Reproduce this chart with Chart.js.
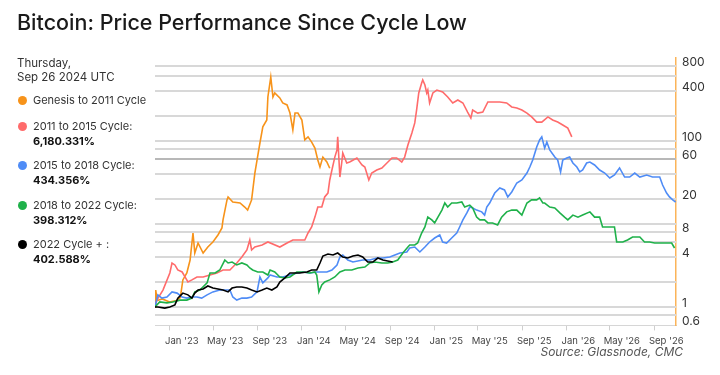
<!DOCTYPE html>
<html>
<head>
<meta charset="utf-8">
<script src="https://cdn.jsdelivr.net/npm/chart.js@4.4.1/dist/chart.umd.min.js"></script>
<style>
  html, body { margin: 0; padding: 0; background: #fff; }
  #wrap { position: relative; width: 720px; height: 375px; overflow: hidden; font-family: Inter, "Liberation Sans", sans-serif; color: #222; }
  #c { position: absolute; left: 0; top: 0; }
  .txt { position: absolute; white-space: nowrap; }
  #title { left: 17px; top: 9px; font-size: 21.5px; line-height: 26px; font-weight: 500; color: #1a1a1a; }
  #date { left: 17px; top: 56px; font-size: 11.5px; line-height: 14px; color: #333; }
  .item { left: 17px; font-size: 11px; line-height: 15px; color: #333; }
  .item .dot { display: inline-block; width: 9px; height: 9px; border-radius: 50%; vertical-align: -1px; margin: 0 6px 0 1px; }
  .item b { display: block; padding-left: 16px; color: #111; }
  #source { right: 37px; top: 344px; font-size: 12px; line-height: 15px; font-style: italic; color: #555; }
</style>
</head>
<body>
<div id="wrap">
  <canvas id="c" width="720" height="375"></canvas>
  <div class="txt" id="title">Bitcoin: Price Performance Since Cycle Low</div>
  <div class="txt" id="date">Thursday,<br>Sep 26 2024 UTC</div>
  <div id="legend"></div>
  <div class="txt" id="source">Source: Glassnode, CMC</div>
</div>
<script>
// days since cycle low (cycle low = Nov 21 2022) and price multiple of cycle low
const genesis = [[0,1],[2,1.6],[6,1.2],[20,1.25],[40,1.15],[60,1.2],[70,1.3],[77,2.12],[88,2.57],[97,3.68],[105,7.79],[110,4.47],[119,5.9],[133,4.47],[146,5.28],[160,6.07],[174,7.37],[185,8.95],[188,11.2],[199,19.5],[202,21.2],[215,18.4],[235,17.9],[248,16],[256,14.7],[267,19.5],[276,41.1],[282,59],[290,94.6],[298,148],[309,179],[312,339],[320,590],[326,339],[331,379],[345,330],[353,287],[365,272],[373,217],[381,136],[387,217],[395,217],[406,179],[414,103],[423,112],[433,97],[442,82],[450,59],[456,48.6],[464,64],[475,56],[483,47]];

const cycle2011 = [[0,1],[5,1.21],[22,1.6],[41,2.57],[47,3.39],[55,3.21],[63,2.79],[75,2.64],[83,2.3],[91,2.0],[102,2.12],[116,2.3],[133,2.3],[152,2.43],[171,2.57],[188,2.79],[207,2.79],[226,3.39],[240,4.0],[254,4.86],[262,6.42],[267,4.86],[276,5.28],[296,5.58],[312,6.07],[345,5.28],[365,5.9],[381,6.42],[414,6.42],[423,7.79],[433,9.2],[442,12.1],[450,16],[461,16],[469,21.2],[478,23.6],[483,33.9],[489,44.7],[497,64],[503,78],[505,112],[511,36.8],[516,54.3],[519,71.6],[530,54.3],[538,55.8],[558,62.4],[572,51.4],[580,48.6],[591,33.9],[599,41.1],[613,44.7],[627,47.3],[641,54.3],[655,62.4],[668,62.4],[682,55.8],[690,64],[699,89.5],[710,125],[718,165],[723,236],[729,379],[737,500],[740,543],[746,473],[751,379],[754,411],[759,287],[768,379],[779,411],[795,389],[809,339],[823,287],[837,312],[851,287],[864,223],[873,189],[878,236],[892,217],[906,223],[920,295],[933,295],[953,295],[972,287],[986,257],[1000,250],[1014,236],[1028,217],[1041,195],[1055,169],[1069,169],[1086,195],[1099,179],[1113,169],[1127,156],[1141,143],[1152,112]];

const cycle2015 = [[0,1],[8,1.4],[19,1.28],[33,1.32],[47,1.52],[61,1.47],[75,1.32],[88,1.28],[102,1.32],[116,1.32],[129,1.28],[144,1.4],[160,1.52],[179,1.6],[207,1.6],[215,1.32],[226,1.21],[240,1.28],[254,1.28],[267,1.32],[282,1.52],[290,2.3],[298,1.95],[312,2.24],[318,2.43],[337,2.3],[353,2.3],[373,2.43],[392,2.57],[409,2.64],[428,2.57],[447,2.64],[475,2.64],[489,2.79],[503,3.21],[511,4.0],[519,4.23],[533,3.68],[547,3.48],[574,3.68],[594,3.68],[613,3.89],[630,3.89],[649,4.0],[663,4.23],[677,4.47],[696,4.6],[704,5.14],[718,5.28],[732,4.6],[746,5.28],[759,6.07],[773,6.78],[787,7.37],[795,6.07],[806,5.9],[820,6.78],[834,7.79],[842,9.2],[851,11.2],[862,13.6],[870,16],[878,15.6],[889,14.7],[903,14],[911,12.8],[917,16],[925,17.9],[939,23.6],[953,27.2],[966,25.7],[975,21.2],[986,24.3],[1000,31.2],[1014,33.9],[1028,41.1],[1036,48.6],[1044,59],[1055,84.7],[1063,103],[1069,112],[1077,82],[1083,97],[1091,78],[1105,64],[1113,59],[1121,42.4],[1127,59],[1138,62.4],[1146,64],[1155,54.3],[1166,48.6],[1174,42.4],[1182,44.7],[1193,54.3],[1202,55.8],[1215,51.4],[1229,44.7],[1243,41.1],[1257,35.8],[1270,38.9],[1284,47.3],[1298,36.8],[1312,36.8],[1326,41.1],[1340,36.8],[1359,38.9],[1375,36.8],[1395,36.8],[1403,29.5],[1414,23.6],[1422,21.2],[1431,19.5],[1439,18.4]];

const cycle2018 = [[0,1],[13,1.15],[33,1.12],[49,1.15],[69,1.21],[88,1.21],[102,1.28],[110,1.52],[124,1.6],[144,1.95],[152,2.57],[166,2.57],[179,2.79],[193,3.68],[202,3.39],[213,3.48],[226,3.21],[240,3.39],[254,3.21],[262,2.95],[270,2.79],[284,2.64],[298,2.64],[312,2.43],[318,2.79],[331,2.64],[345,2.3],[359,2.24],[373,2.3],[392,2.64],[409,2.64],[428,2.57],[442,2.64],[447,2.43],[453,1.52],[461,1.84],[469,2.0],[483,2.12],[497,2.3],[511,2.64],[525,2.79],[544,2.79],[561,2.95],[580,3.03],[594,3.39],[607,3.48],[627,3.39],[643,3.39],[657,3.48],[671,3.68],[685,4.47],[699,5.28],[704,5.58],[718,5.58],[726,5.9],[737,7.79],[746,9.2],[754,12.1],[765,11.2],[773,10.3],[782,12.1],[793,14.7],[801,17.9],[809,16],[820,17.9],[834,17.9],[848,18.4],[856,16],[870,16.9],[878,15.6],[889,12.1],[898,11.2],[911,11.2],[920,10.3],[933,10.3],[947,9.73],[958,12.1],[972,14],[986,14.7],[1000,14.7],[1014,12.8],[1028,17.9],[1041,19.5],[1055,19.5],[1063,20.6],[1072,17.9],[1077,17.9],[1091,16],[1105,15.6],[1119,13.6],[1132,12.1],[1141,11.2],[1155,12.8],[1169,12.1],[1182,12.8],[1202,14],[1215,12.1],[1229,12.1],[1237,9.2],[1257,9.2],[1270,9.2],[1276,6.07],[1293,6.07],[1306,6.42],[1320,6.97],[1340,6.97],[1353,6.07],[1367,6.07],[1381,5.9],[1395,5.9],[1414,5.9],[1428,5.9],[1436,5.14]];

const cycle2022 = [[0,1],[8,1],[27,0.97],[41,1],[55,1.06],[63,1.28],[77,1.47],[91,1.4],[102,1.28],[110,1.47],[119,1.6],[133,1.65],[146,1.79],[160,1.69],[174,1.65],[188,1.6],[202,1.52],[213,1.69],[226,1.74],[240,1.74],[254,1.69],[267,1.6],[282,1.52],[296,1.6],[309,1.69],[323,1.6],[337,1.74],[345,2.0],[359,2.24],[373,2.57],[400,2.57],[420,2.64],[433,2.79],[447,2.79],[456,3.39],[464,4.11],[478,4.35],[492,4.23],[505,4.47],[519,4.0],[533,3.89],[547,4.11],[561,4.23],[574,4.0],[588,3.48],[602,3.48],[616,3.89],[630,3.68],[643,3.58],[657,3.48]];

const seriesNames = ['Genesis to 2011 Cycle', '2011 to 2015 Cycle:', '2015 to 2018 Cycle:', '2018 to 2022 Cycle:', '2022 Cycle + :'];
const seriesPct = ['', '6,180.331%', '434.356%', '398.312%', '402.588%'];
const seriesColors = ['#f7931a', '#ff6b6b', '#4f8cf6', '#1fb14a', '#000000'];

const xTickDays = [41, 161, 284, 406, 527, 650, 772, 892, 1015, 1137, 1257, 1380];
const xTickLabels = ["Jan '23", "May '23", "Sep '23", "Jan '24", "May '24", "Sep '24", "Jan '25", "May '25", "Sep '25", "Jan '26", "May '26", "Sep '26"];
const yGridValues = [0.8, 1, 2, 4, 6, 8, 10, 20, 40, 60, 80, 100, 200, 400, 600, 800];
const yLabelValues = [0.6, 1, 4, 8, 20, 60, 100, 400, 800];

// legend panel
const legendTops = [93, 119, 158, 198, 237];
const legend = document.getElementById('legend');
seriesNames.forEach((name, i) => {
    const d = document.createElement('div');
    d.className = 'txt item';
    d.style.top = legendTops[i] + 'px';
    d.innerHTML = '<span class="dot" style="background:' + seriesColors[i] + '"></span>' + name +
        (seriesPct[i] ? '<b>' + seriesPct[i] + '</b>' : '');
    legend.appendChild(d);
});

// horizontal grid drawn from the y scale, 2px soft rows like the reference
const gridPlugin = {
    id: 'logGrid',
    beforeDatasetsDraw(chart) {
        const { ctx, chartArea, scales } = chart;
        ctx.save();
        yGridValues.forEach(v => {
            const y = Math.round(scales.y.getPixelForValue(v));
            ctx.fillStyle = v === 60 ? '#b8b8b8' : '#d8d8d8';
            ctx.fillRect(chartArea.left, y - 1, chartArea.right - chartArea.left, 2);
        });
        ctx.restore();
    }
};

const allSeries = [genesis, cycle2011, cycle2015, cycle2018, cycle2022];
// later cycles drawn on top, black last
const datasets = allSeries.map((s, i) => ({
    label: seriesNames[i],
    data: s.map(p => ({ x: p[0], y: p[1] })),
    borderColor: seriesColors[i],
    borderWidth: 1.6,
    pointRadius: 0,
    tension: 0,
    order: 4 - i
}));

new Chart(document.getElementById('c'), {
    type: 'line',
    data: { datasets },
    plugins: [gridPlugin],
    options: {
        responsive: false,
        animation: false,
        devicePixelRatio: 1,
        layout: { padding: { left: 155, top: 58, right: 0, bottom: 0 } },
        plugins: { legend: { display: false }, tooltip: { enabled: false } },
        scales: {
            x: {
                type: 'linear',
                min: 0,
                max: 1440,
                afterBuildTicks: scale => { scale.ticks = xTickDays.map(v => ({ value: v })); },
                afterFit: scale => { scale.height = 49.6; },
                ticks: {
                    callback: (v) => xTickLabels[xTickDays.indexOf(v)],
                    autoSkip: false,
                    maxRotation: 0,
                    labelOffset: 12,
                    padding: 5,
                    color: '#444',
                    font: { family: 'Inter', size: 9.5 }
                },
                grid: { drawOnChartArea: false, drawTicks: true, tickLength: 5, color: '#cfcfcf' },
                border: { display: true, color: '#d6d6d6', width: 1 }
            },
            y: {
                type: 'logarithmic',
                position: 'right',
                min: 0.6,
                max: 1000,
                afterBuildTicks: scale => { scale.ticks = yLabelValues.map(v => ({ value: v })); },
                afterFit: scale => { scale.width = 44; },
                ticks: {
                    callback: (v) => String(v),
                    autoSkip: false,
                    labelOffset: -4,
                    padding: 6,
                    color: '#333',
                    font: { family: 'Inter', size: 12 }
                },
                grid: { drawOnChartArea: false, drawTicks: false },
                border: { display: true, color: '#fbb459', width: 1.5 }
            }
        }
    }
});
</script>
</body>
</html>
